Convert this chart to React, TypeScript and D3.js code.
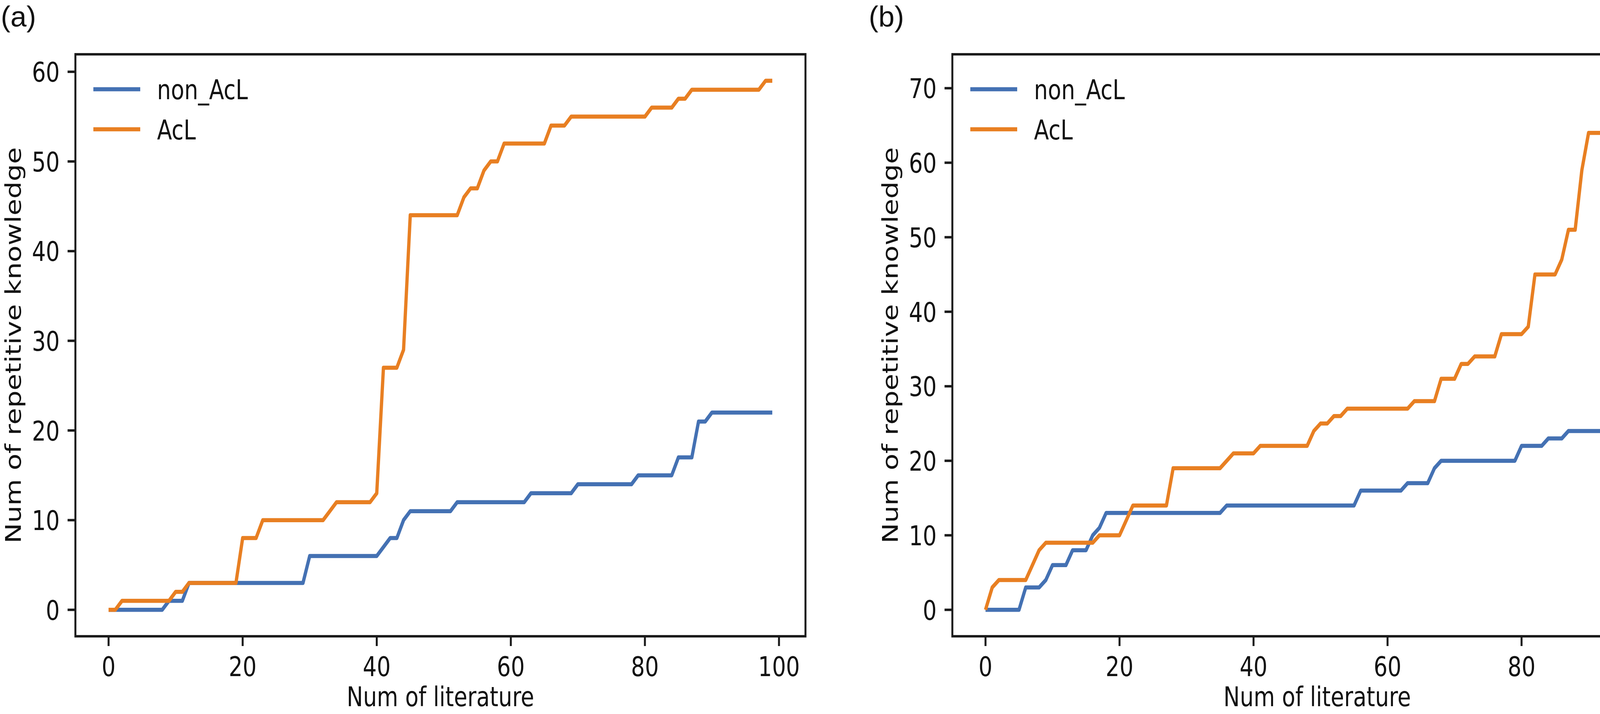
import React from 'react';
import * as d3 from 'd3';

// ---------- data ----------
const literatureIndex: number[] = d3.range(100);

const nonAcL_a: number[] = [
  0, 0, 0, 0, 0, 0, 0, 0, 0, 1,
  1, 1, 3, 3, 3, 3, 3, 3, 3, 3,
  3, 3, 3, 3, 3, 3, 3, 3, 3, 3,
  6, 6, 6, 6, 6, 6, 6, 6, 6, 6,
  6, 7, 8, 8, 10, 11, 11, 11, 11, 11,
  11, 11, 12, 12, 12, 12, 12, 12, 12, 12,
  12, 12, 12, 13, 13, 13, 13, 13, 13, 13,
  14, 14, 14, 14, 14, 14, 14, 14, 14, 15,
  15, 15, 15, 15, 15, 17, 17, 17, 21, 21,
  22, 22, 22, 22, 22, 22, 22, 22, 22, 22,
];

const AcL_a: number[] = [
  0, 0, 1, 1, 1, 1, 1, 1, 1, 1,
  2, 2, 3, 3, 3, 3, 3, 3, 3, 3,
  8, 8, 8, 10, 10, 10, 10, 10, 10, 10,
  10, 10, 10, 11, 12, 12, 12, 12, 12, 12,
  13, 27, 27, 27, 29, 44, 44, 44, 44, 44,
  44, 44, 44, 46, 47, 47, 49, 50, 50, 52,
  52, 52, 52, 52, 52, 52, 54, 54, 54, 55,
  55, 55, 55, 55, 55, 55, 55, 55, 55, 55,
  55, 56, 56, 56, 56, 57, 57, 58, 58, 58,
  58, 58, 58, 58, 58, 58, 58, 58, 59, 59,
];

const nonAcL_b: number[] = [
  0, 0, 0, 0, 0, 0, 3, 3, 3, 4,
  6, 6, 6, 8, 8, 8, 10, 11, 13, 13,
  13, 13, 13, 13, 13, 13, 13, 13, 13, 13,
  13, 13, 13, 13, 13, 13, 14, 14, 14, 14,
  14, 14, 14, 14, 14, 14, 14, 14, 14, 14,
  14, 14, 14, 14, 14, 14, 16, 16, 16, 16,
  16, 16, 16, 17, 17, 17, 17, 19, 20, 20,
  20, 20, 20, 20, 20, 20, 20, 20, 20, 20,
  22, 22, 22, 22, 23, 23, 23, 24, 24, 24,
  24, 24, 24, 24, 24, 25, 28, 29, 29, 30,
];

const AcL_b: number[] = [
  0, 3, 4, 4, 4, 4, 4, 6, 8, 9,
  9, 9, 9, 9, 9, 9, 9, 10, 10, 10,
  10, 12, 14, 14, 14, 14, 14, 14, 19, 19,
  19, 19, 19, 19, 19, 19, 20, 21, 21, 21,
  21, 22, 22, 22, 22, 22, 22, 22, 22, 24,
  25, 25, 26, 26, 27, 27, 27, 27, 27, 27,
  27, 27, 27, 27, 28, 28, 28, 28, 31, 31,
  31, 33, 33, 34, 34, 34, 34, 37, 37, 37,
  37, 38, 45, 45, 45, 45, 47, 51, 51, 59,
  64, 64, 64, 64, 65, 65, 66, 69, 69, 71,
];

const seriesNames: string[] = ['non_AcL', 'AcL'];
const xTicks: number[] = [0, 20, 40, 60, 80, 100];
const yTicks_a: number[] = [0, 10, 20, 30, 40, 50, 60];
const yTicks_b: number[] = [0, 10, 20, 30, 40, 50, 60, 70];
const panelLabels: string[] = ['(a)', '(b)'];
const xLabel = 'Num of literature';
const yLabel = 'Num of repetitive knowledge';

// ---------- layout ----------
const W = 4314;
const H = 1828;
const K = 1.25; // vertical stretch of the original figure
const TOP = 139;
const BOTTOM = 1629;
const FONT = 56;
const COLORS = ['#4471b3', '#e87f22'];
const INK = '#111';

type PanelSpec = {
  label: string;
  labelX: number;
  left: number;
  right: number;
  yDomain: [number, number];
  yTicks: number[];
  series: number[][];
};

const panels: PanelSpec[] = [
  { label: panelLabels[0], labelX: 2, left: 193, right: 2062, yDomain: [-2.95, 61.95], yTicks: yTicks_a, series: [nonAcL_a, AcL_a] },
  { label: panelLabels[1], labelX: 2224, left: 2438, right: 4306, yDomain: [-3.55, 74.55], yTicks: yTicks_b, series: [nonAcL_b, AcL_b] },
];

function Panel({ p }: { p: PanelSpec }) {
  const x = d3.scaleLinear().domain([-4.95, 103.95]).range([p.left, p.right]);
  const y = d3.scaleLinear().domain(p.yDomain).range([BOTTOM / K, TOP / K]);
  const line = d3
    .line<number>()
    .x((_, i) => x(literatureIndex[i]))
    .y((d) => y(d));
  const top = TOP / K;
  const bottom = BOTTOM / K;
  const midX = (p.left + p.right) / 2;
  const midY = (top + bottom) / 2;
  const legendX0 = p.left + 46;
  const legendX1 = p.left + 166;
  const legendTextX = p.left + 209;
  const legendY = [228.6 / K, 331 / K];

  return (
    <g>
      <text
        x={p.labelX}
        y={68}
        fontFamily="'Liberation Sans', Arial, sans-serif"
        fontSize={74}
        fill={INK}
      >
        {p.label}
      </text>
      <g transform={`scale(1,${K})`}>
        {p.series.map((s, si) => (
          <path
            key={si}
            d={line(s) || ''}
            fill="none"
            stroke={COLORS[si]}
            strokeWidth={8.4}
            strokeLinejoin="round"
            strokeLinecap="butt"
          />
        ))}
        <rect
          x={p.left}
          y={top}
          width={p.right - p.left}
          height={bottom - top}
          fill="none"
          stroke="#1a1a1a"
          strokeWidth={5}
        />
        {p.yTicks.map((t) => (
          <g key={'y' + t}>
            <line x1={p.left - 20} x2={p.left} y1={y(t)} y2={y(t)} stroke="#1a1a1a" strokeWidth={5} />
            <text
              x={p.left - 40}
              y={y(t) + 0.365 * FONT}
              textAnchor="end"
              fontFamily="'DejaVu Sans', sans-serif"
              fontSize={FONT}
              fill={INK}
            >
              {t}
            </text>
          </g>
        ))}
        {xTicks.map((t) => (
          <g key={'x' + t}>
            <line x1={x(t)} x2={x(t)} y1={bottom} y2={bottom + 20} stroke="#1a1a1a" strokeWidth={5} />
            <text
              x={x(t)}
              y={1731 / K}
              textAnchor="middle"
              fontFamily="'DejaVu Sans', sans-serif"
              fontSize={FONT}
              fill={INK}
            >
              {t}
            </text>
          </g>
        ))}
        <text
          x={midX}
          y={1808 / K}
          textAnchor="middle"
          fontFamily="'DejaVu Sans', sans-serif"
          fontSize={FONT}
          fill={INK}
        >
          {xLabel}
        </text>
        <text
          transform={`translate(${p.left - 140},${midY}) rotate(-90)`}
          textAnchor="middle"
          fontFamily="'DejaVu Sans', sans-serif"
          fontSize={FONT}
          fill={INK}
        >
          {yLabel}
        </text>
        {seriesNames.map((n, i) => (
          <g key={n}>
            <line
              x1={legendX0}
              x2={legendX1}
              y1={legendY[i]}
              y2={legendY[i]}
              stroke={COLORS[i]}
              strokeWidth={8.4}
            />
            <text
              x={legendTextX}
              y={legendY[i] + 0.365 * FONT}
              fontFamily="'DejaVu Sans', sans-serif"
              fontSize={FONT}
              fill={INK}
            >
              {n}
            </text>
          </g>
        ))}
      </g>
    </g>
  );
}

export default function App() {
  return (
    <svg
      width={W}
      height={H}
      viewBox={`0 0 ${W} ${H}`}
      style={{ position: 'absolute', left: 0, top: 0, background: '#fff' }}
    >
      <rect x={0} y={0} width={W} height={H} fill="#fff" />
      {panels.map((p) => (
        <Panel key={p.label} p={p} />
      ))}
    </svg>
  );
}
